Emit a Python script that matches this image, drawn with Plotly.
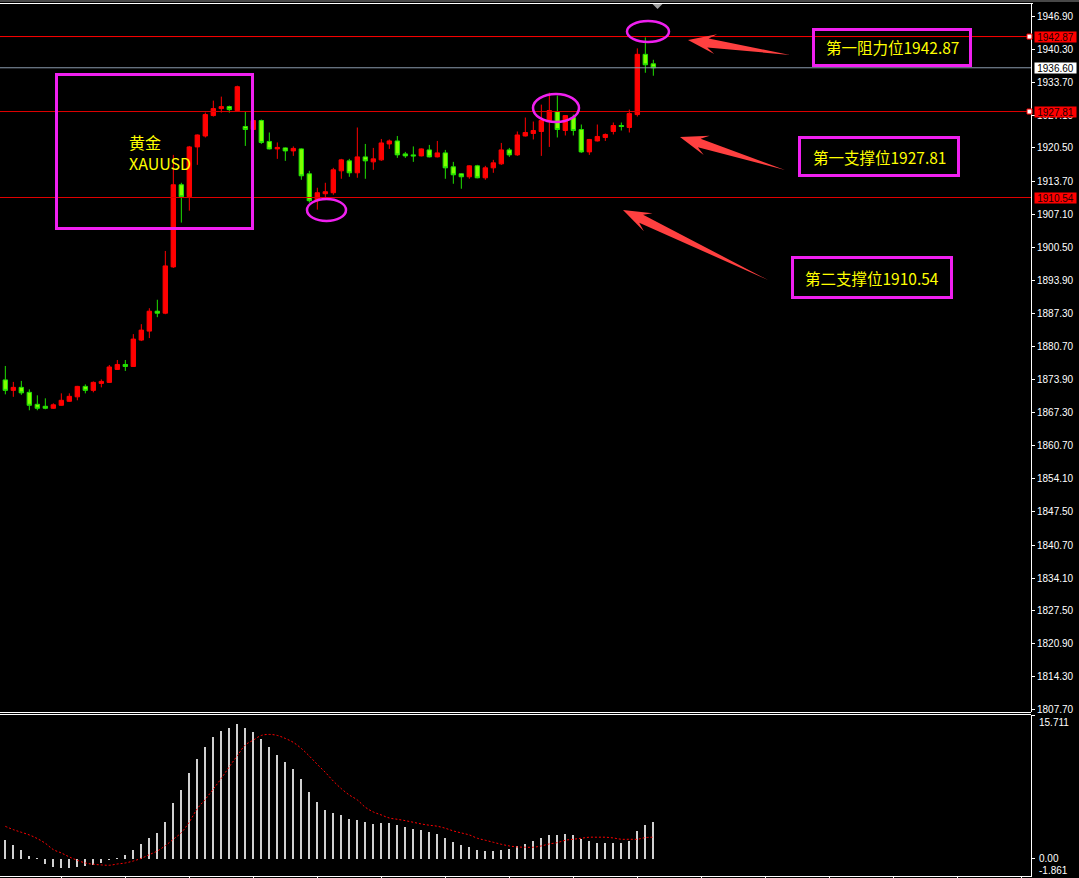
import math
import plotly.graph_objects as go

W, H = 1079, 878

# ---------------- data ----------------
OPEN = [1873.9, 1871.8, 1872.4, 1871.4, 1869.0, 1868.6, 1868.2, 1868.8, 1869.6, 1870.5,
        1872.6, 1871.8, 1873.2, 1873.4, 1876.0, 1877.0, 1876.6, 1881.9, 1883.7, 1887.7,
        1887.3, 1896.6, 1913.1, 1910.7, 1920.7, 1922.9, 1927.0, 1928.4, 1928.8, 1928.0,
        1924.8, 1924.2, 1926.0, 1921.8, 1920.3, 1920.5, 1919.9, 1920.3, 1915.3, 1909.9,
        1911.3, 1911.5, 1915.9, 1917.9, 1915.5, 1918.7, 1917.7, 1918.1, 1921.3, 1921.9,
        1919.3, 1919.1, 1918.9, 1920.1, 1918.7, 1919.5, 1916.7, 1915.3, 1914.7, 1916.9,
        1914.5, 1916.5, 1917.3, 1920.1, 1919.1, 1922.9, 1923.4, 1923.8, 1926.0, 1927.8,
        1924.0, 1926.6, 1924.2, 1919.7, 1921.9, 1922.6, 1923.8, 1925.0, 1924.6, 1927.2,
        1939.3, 1937.4]
HIGH = [1876.7, 1873.5, 1873.7, 1872.0, 1870.8, 1870.2, 1869.2, 1871.2, 1871.2, 1872.7,
        1873.0, 1873.6, 1874.0, 1876.9, 1877.9, 1877.9, 1883.1, 1885.1, 1888.3, 1890.0,
        1899.8, 1919.1, 1913.5, 1920.9, 1923.2, 1927.6, 1930.0, 1930.8, 1929.0, 1933.0,
        1927.8, 1926.2, 1926.2, 1923.6, 1921.6, 1920.6, 1920.8, 1920.4, 1915.9, 1912.5,
        1913.5, 1916.5, 1918.3, 1918.3, 1924.6, 1921.3, 1920.5, 1922.3, 1922.2, 1922.9,
        1919.7, 1920.8, 1920.4, 1921.1, 1921.9, 1920.1, 1917.7, 1915.4, 1917.0, 1917.1,
        1916.9, 1918.1, 1921.5, 1920.5, 1923.8, 1926.6, 1925.8, 1929.2, 1931.6, 1931.0,
        1927.1, 1927.2, 1925.2, 1922.3, 1925.2, 1923.4, 1925.6, 1925.6, 1928.2, 1940.5,
        1942.7, 1938.2]
LOW = [1871.0, 1870.5, 1870.9, 1867.8, 1867.8, 1868.0, 1868.1, 1868.7, 1869.5, 1869.8,
       1871.2, 1871.4, 1872.4, 1873.3, 1875.9, 1875.7, 1876.5, 1881.7, 1882.3, 1886.5,
       1887.1, 1896.4, 1905.5, 1907.9, 1917.1, 1922.6, 1926.8, 1927.6, 1927.6, 1927.9,
       1920.9, 1924.0, 1921.3, 1920.2, 1918.3, 1917.9, 1918.9, 1914.1, 1909.5, 1908.1,
       1910.1, 1911.1, 1914.3, 1914.7, 1914.5, 1914.3, 1916.1, 1917.9, 1920.3, 1918.5,
       1918.5, 1917.7, 1918.8, 1918.6, 1918.6, 1914.3, 1913.3, 1912.3, 1914.3, 1914.4,
       1914.1, 1915.5, 1917.1, 1918.7, 1918.9, 1922.8, 1922.2, 1918.9, 1920.7, 1922.6,
       1923.0, 1923.0, 1919.5, 1919.1, 1921.8, 1921.9, 1923.2, 1924.0, 1923.6, 1926.8,
       1935.6, 1935.0]
CLOSE = [1871.8, 1872.4, 1871.3, 1868.8, 1868.2, 1868.2, 1868.9, 1869.8, 1870.6, 1872.6,
         1871.8, 1873.4, 1873.6, 1876.5, 1877.0, 1876.6, 1882.1, 1883.9, 1887.7, 1887.3,
         1896.8, 1913.1, 1910.7, 1920.7, 1923.1, 1927.2, 1928.4, 1928.8, 1928.2, 1932.8,
         1924.2, 1926.0, 1921.6, 1920.3, 1920.6, 1919.9, 1920.4, 1914.9, 1909.9, 1911.5,
         1911.7, 1916.1, 1918.1, 1915.5, 1918.7, 1917.9, 1918.3, 1921.5, 1921.9, 1919.1,
         1918.9, 1918.9, 1920.3, 1918.7, 1919.5, 1916.5, 1915.1, 1914.7, 1916.9, 1914.5,
         1916.5, 1917.5, 1920.1, 1919.1, 1923.1, 1923.6, 1924.0, 1926.0, 1928.0, 1924.2,
         1927.0, 1924.0, 1919.7, 1922.2, 1922.8, 1923.2, 1925.0, 1924.8, 1927.4, 1939.3,
         1937.2, 1936.6]

MACD_HIST = [2.07, 1.53, 0.98, 0.33, 0.05, -0.55, -0.87, -0.98, -0.98, -0.87,
             -0.76, -0.65, -0.44, -0.10, 0.10, 0.44, 0.98, 1.64, 2.29, 2.84,
             4.04, 6.11, 7.53, 9.39, 10.91, 12.22, 13.32, 13.97, 14.30, 14.73,
             14.30, 13.86, 13.10, 12.22, 11.35, 10.59, 9.82, 8.73, 7.31, 6.22,
             5.35, 5.02, 4.80, 4.37, 4.26, 4.04, 3.82, 3.93, 3.93, 3.71,
             3.49, 3.27, 3.16, 2.95, 2.73, 2.29, 1.86, 1.53, 1.31, 0.98,
             0.87, 0.87, 0.98, 1.09, 1.42, 1.64, 1.96, 2.29, 2.62, 2.62,
             2.73, 2.62, 2.18, 1.96, 1.75, 1.75, 1.75, 1.75, 1.96, 3.06,
             3.71, 4.04]
MACD_SIGNAL = [3.56, 3.20, 2.91, 2.62, 2.22, 1.71, 1.02, 0.65, 0.22, -0.15,
               -0.44, -0.58, -0.65, -0.69, -0.55, -0.44, -0.22, 0.07, 0.47, 0.87,
               1.45, 2.15, 2.87, 4.04, 5.49, 6.51, 7.63, 8.80, 10.07, 11.27,
               12.44, 12.97, 13.48, 13.59, 13.48, 13.15, 12.72, 12.06, 11.23, 10.32,
               9.45, 8.50, 7.67, 6.98, 6.44, 5.64, 5.13, 4.80, 4.47, 4.33,
               4.18, 4.00, 3.82, 3.68, 3.57, 3.35, 3.06, 2.84, 2.62, 2.26,
               2.04, 1.82, 1.60, 1.42, 1.31, 1.28, 1.28, 1.42, 1.64, 1.78,
               2.04, 2.15, 2.26, 2.37, 2.37, 2.37, 2.29, 2.15, 2.15, 2.15,
               2.33, 2.37]

PRICE_TICK_LABELS = ["1946.90", "1940.30", "1933.70", "1927.10", "1920.50", "1913.70",
                     "1907.10", "1900.50", "1893.90", "1887.30", "1880.70", "1873.90",
                     "1867.30", "1860.70", "1854.10", "1847.50", "1840.70", "1834.10",
                     "1827.50", "1820.90", "1814.30", "1807.70"]
MACD_MAX, MACD_MIN = 15.711, -1.861
MACD_LABELS = ["15.711", "0.00", "-1.861"]

RESISTANCE_1 = 1942.87
SUPPORT_1 = 1927.81
SUPPORT_2 = 1910.54
LAST_PRICE = 1936.60

TITLE_CN = "黄金"
TITLE_SYM = "XAUUSD"
BOX_TEXTS = ["第一阻力位1942.87", "第一支撑位1927.81", "第二支撑位1910.54"]

idx = list(range(len(CLOSE)))

# ---------------- helpers (paper coords from pixel positions) ----------------
def px(x):
    return x / W


def py(y):
    return 1 - y / H


MAGENTA = "#f020f0"
YELLOW = "#ffff00"
ARROW_RED = "#ff4040"
CJK = "Noto Sans CJK SC"
AXFONT = "Liberation Sans, Arial, sans-serif"

X_RIGHT = 1031
XDOM = [0, px(X_RIGHT)]
PRICE_DOM = [py(712), py(4)]
MACD_DOM = [py(876), py(715)]
PRICE_RANGE = [1807.19, 1949.41]
X_RANGE = [-0.666, (X_RIGHT - 5.33) / 8.0]

fig = go.Figure()

fig.add_trace(go.Candlestick(
    x=idx, open=OPEN, high=HIGH, low=LOW, close=CLOSE,
    increasing=dict(line=dict(color="#ff0000", width=1), fillcolor="#ff0000"),
    decreasing=dict(line=dict(color="#20e000", width=1), fillcolor="#80ff00"),
    whiskerwidth=0, xaxis="x", yaxis="y", showlegend=False,
))

fig.add_trace(go.Bar(
    x=idx, y=MACD_HIST, width=0.24, marker=dict(color="#d0d0d0", line=dict(width=0)),
    xaxis="x2", yaxis="y2", showlegend=False,
))
fig.add_trace(go.Scatter(
    x=idx, y=MACD_SIGNAL, mode="lines",
    line=dict(color="#ff0000", width=1, dash="2px,2px", shape="spline"),
    xaxis="x2", yaxis="y2", showlegend=False,
))

shapes = []
# frame lines
shapes.append(dict(type="line", xref="paper", yref="paper", x0=0, x1=1, y0=py(1), y1=py(1),
                   line=dict(color="#909090", width=1)))
shapes.append(dict(type="line", xref="paper", yref="paper", x0=0, x1=px(1033), y0=py(3.5), y1=py(3.5),
                   line=dict(color="#ffffff", width=1)))
for yy in (712.5, 714.5):
    shapes.append(dict(type="line", xref="paper", yref="paper", x0=0, x1=px(X_RIGHT), y0=py(yy), y1=py(yy),
                       line=dict(color="#ffffff", width=1)))

# level lines
for lvl, col in [(RESISTANCE_1, "#ff0000"), (SUPPORT_1, "#e00000"), (SUPPORT_2, "#e00000")]:
    shapes.append(dict(type="line", xref="paper", yref="y", x0=0, x1=px(X_RIGHT), y0=lvl, y1=lvl,
                       line=dict(color=col, width=1)))
shapes.append(dict(type="line", xref="paper", yref="y", x0=0, x1=px(X_RIGHT), y0=LAST_PRICE, y1=LAST_PRICE,
                   line=dict(color="#8a9aae", width=1)))
# small end squares
for lvl in (RESISTANCE_1, SUPPORT_1):
    shapes.append(dict(type="rect", xref="paper", yref="y", x0=px(1027), x1=px(1032),
                       y0=lvl - 0.5, y1=lvl + 0.5, fillcolor="#ffffff", line=dict(color="#ff0000", width=1)))

# top grey marker
shapes.append(dict(type="path", xref="paper", yref="paper",
                   path=f"M {px(652.5)},{py(4)} L {px(662.5)},{py(4)} L {px(657.5)},{py(9)} Z",
                   fillcolor="#a0a0a0", line=dict(width=0)))

# XAUUSD box
shapes.append(dict(type="rect", xref="paper", yref="paper", x0=px(56.5), x1=px(252.5), y0=py(228.5), y1=py(74.5),
                   line=dict(color=MAGENTA, width=3)))
# ellipses
for (x0, y0, x1, y1) in [(307, 199, 346, 221), (533, 94, 579, 122), (627, 21, 669, 42)]:
    shapes.append(dict(type="circle", xref="paper", yref="paper", x0=px(x0), x1=px(x1), y0=py(y1), y1=py(y0),
                       line=dict(color=MAGENTA, width=2.5)))
# text boxes
BOXES = [(813.5, 29.5, 970.5, 65.5), (799.5, 137.5, 958.5, 175.5), (792.5, 257.5, 951.5, 297.5)]
for (x0, y0, x1, y1) in BOXES:
    shapes.append(dict(type="rect", xref="paper", yref="paper", x0=px(x0), x1=px(x1), y0=py(y1), y1=py(y0),
                       line=dict(color=MAGENTA, width=3)))


def arrow_path(tail, tip, head_len=28, head_half=10, neck_half=4.5):
    tx, ty = tail
    hx, hy = tip
    dx, dy = hx - tx, hy - ty
    L = math.hypot(dx, dy)
    ux, uy = dx / L, dy / L
    nx, ny = -uy, ux
    bx, by = hx - ux * head_len, hy - uy * head_len
    kx, ky = hx - ux * head_len * 0.72, hy - uy * head_len * 0.72
    pts = [(hx, hy),
           (bx + nx * head_half, by + ny * head_half),
           (kx + nx * neck_half, ky + ny * neck_half),
           (tx, ty),
           (kx - nx * neck_half, ky - ny * neck_half),
           (bx - nx * head_half, by - ny * head_half)]
    return "M " + " L ".join(f"{px(x):.5f},{py(y):.5f}" for x, y in pts) + " Z"


for tail, tip in [((790, 55), (688, 40)), ((785, 170), (680, 137)), ((768, 280), (623, 210))]:
    shapes.append(dict(type="path", xref="paper", yref="paper", path=arrow_path(tail, tip),
                       fillcolor=ARROW_RED, line=dict(width=0)))

annotations = []
annotations.append(dict(xref="paper", yref="paper", x=px(127), y=py(152.5),
                        text=f"{TITLE_CN}<br>{TITLE_SYM}", showarrow=False, align="left",
                        xanchor="left", yanchor="middle", font=dict(family=CJK, size=16, color=YELLOW)))
for (x0, y0, x1, y1), txt in zip(BOXES, BOX_TEXTS):
    annotations.append(dict(xref="paper", yref="paper", x=px((x0 + x1) / 2), y=py((y0 + y1) / 2),
                            text=txt, showarrow=False, xanchor="center", yanchor="middle",
                            font=dict(family=CJK, size=15.5, color=YELLOW)))

# price labels on axis
for lvl, bg, fg in [(RESISTANCE_1, "#ff0000", "#200000"), (SUPPORT_1, "#ff0000", "#200000"),
                    (SUPPORT_2, "#ff0000", "#200000"), (LAST_PRICE, "#ffffff", "#000000")]:
    annotations.append(dict(xref="paper", yref="y", x=px(1034), y=lvl, text=f"{lvl:.2f}", showarrow=False,
                            xanchor="left", yanchor="middle", bgcolor=bg, borderpad=0, width=41, height=10,
                            font=dict(family=AXFONT, size=10, color=fg)))

# MACD scale labels
for txt, yy in zip(MACD_LABELS, [722, 858, 870]):
    annotations.append(dict(xref="paper", yref="paper", x=px(1037), y=py(yy), text=txt, showarrow=False,
                            xanchor="left", yanchor="middle", font=dict(family=AXFONT, size=10, color="#ffffff")))

fig.update_layout(
    template="none",
    width=W, height=H, autosize=False,
    margin=dict(l=0, r=0, t=0, b=0, pad=0),
    paper_bgcolor="#000000", plot_bgcolor="#000000",
    showlegend=False, hovermode=False,
    boxgap=0.45, boxgroupgap=0, bargap=0,
    xaxis=dict(domain=XDOM, range=X_RANGE, anchor="y", showticklabels=False, showgrid=False,
               zeroline=False, showline=False, ticks="", rangeslider=dict(visible=False), automargin=False),
    xaxis2=dict(domain=XDOM, range=X_RANGE, anchor="y2", showticklabels=False, showgrid=False,
                zeroline=False, showline=True, linecolor="#ffffff", linewidth=1,
                ticks="outside", ticklen=3, tickcolor="#ffffff",
                tickvals=list(range(7, 129, 8)), automargin=False),
    yaxis=dict(domain=PRICE_DOM, range=PRICE_RANGE, anchor="x", side="right",
               tickvals=[float(t) for t in PRICE_TICK_LABELS], ticktext=PRICE_TICK_LABELS,
               ticks="outside", ticklen=3, tickcolor="#ffffff", showline=True, linecolor="#ffffff",
               linewidth=1, showgrid=False, zeroline=False, automargin=False,
               tickfont=dict(family=AXFONT, size=10, color="#ffffff")),
    yaxis2=dict(domain=MACD_DOM, range=[MACD_MIN, MACD_MAX], anchor="x2", side="right",
                tickvals=[MACD_MAX, 0.0], showticklabels=False,
                ticks="outside", ticklen=3, tickcolor="#ffffff", showline=True, linecolor="#ffffff",
                linewidth=1, showgrid=False, zeroline=False, automargin=False),
    shapes=shapes, annotations=annotations,
)

fig.write_html(
    "out.html",
    config={"displayModeBar": False, "staticPlot": True},
    post_script="document.body.style.margin='0';document.body.style.padding='0';"
                "document.documentElement.style.background='#000';document.body.style.background='#000';",
)
